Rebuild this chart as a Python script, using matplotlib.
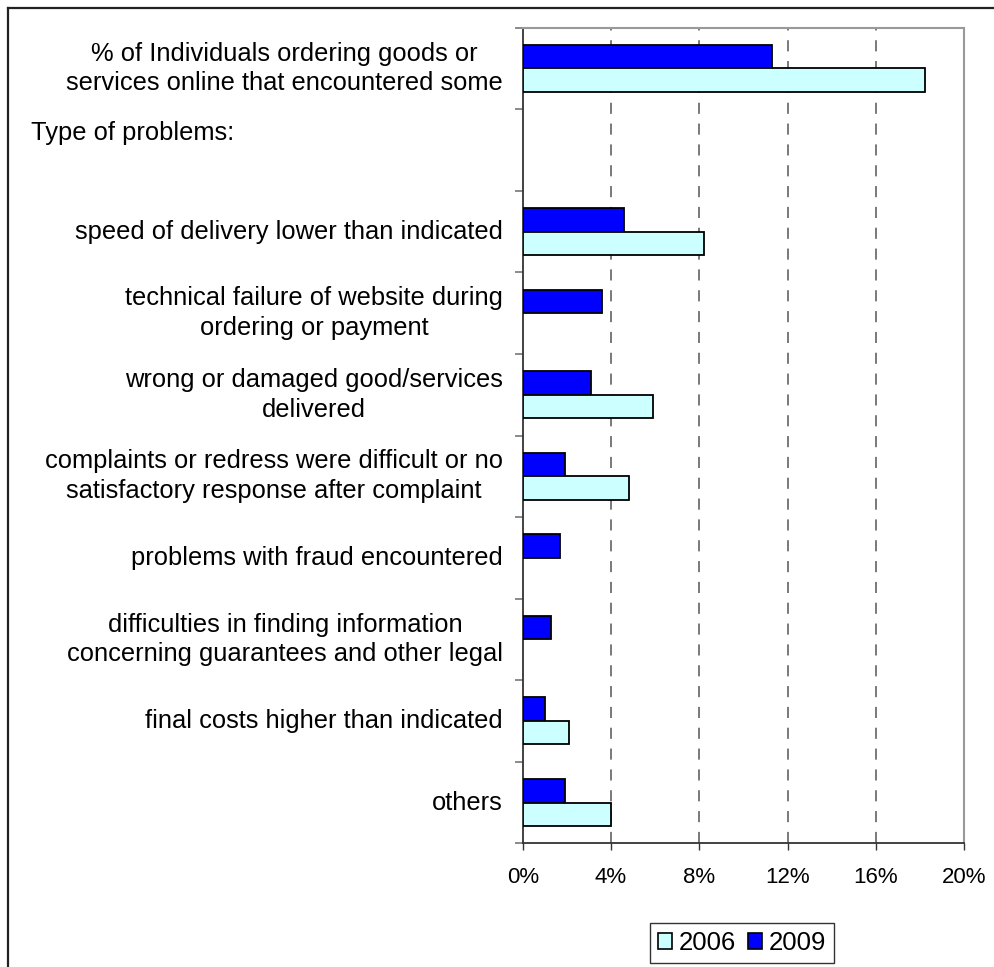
import matplotlib
matplotlib.use("Agg")
import matplotlib.pyplot as plt
from matplotlib.lines import Line2D
from matplotlib.patches import Patch
from matplotlib.transforms import ScaledTranslation

plt.rcParams['font.family'] = ['Liberation Sans', 'DejaVu Sans']
plt.rcParams['lines.scale_dashes'] = False

# Données (en %) ; None = pas de valeur
categories = [
    "% of Individuals ordering goods or\nservices online that encountered some",
    "Type of problems:",
    "speed of delivery lower than indicated",
    "technical failure of website during\nordering or payment",
    "wrong or damaged good/services\ndelivered",
    "complaints or redress were difficult or no\nsatisfactory response after complaint",
    "problems with fraud encountered",
    "difficulties in finding information\nconcerning guarantees and other legal",
    "final costs higher than indicated",
    "others",
]
values_2006 = [18.2, None, 8.2, None, 5.9, 4.8, None, None, 2.1, 4.0]
values_2009 = [11.3, None, 4.6, 3.6, 3.1, 1.9, 1.7, 1.3, 1.0, 1.9]
x_ticks = [0, 4, 8, 12, 16, 20]

W, H = 994, 967
fig = plt.figure(figsize=(W / 100, H / 100), dpi=100)
ax = fig.add_axes([522.7 / W, 1 - 843.3 / H, 441.6 / W, 815.6 / H])

# Barres (on saute les catégories sans valeur)
h = 0.288
y09 = [i - h / 2 for i, v in enumerate(values_2009) if v is not None]
v09 = [v for v in values_2009 if v is not None]
y06 = [i + h / 2 for i, v in enumerate(values_2006) if v is not None]
v06 = [v for v in values_2006 if v is not None]
ax.barh(y09, v09, height=h, color='#0000FF', edgecolor='black', linewidth=1.3, zorder=3)
ax.barh(y06, v06, height=h, color='#CCFFFF', edgecolor='black', linewidth=1.3, zorder=3)

ax.set_xlim(0, 20)
ax.set_ylim(len(categories) - 0.5, -0.5)

# Axe x
ax.set_xticks(x_ticks)
ax.set_xticklabels([f"{t}%" for t in x_ticks], fontsize=16)
ax.tick_params(axis='x', length=5, width=1, color='#333333', pad=12)
for t in x_ticks[1:-1]:
    ax.axvline(t, color='#555555', linewidth=1.1, linestyle=(0, (8, 7)), zorder=1)

# Axe y : graduations aux limites des catégories
ax.set_yticks([i - 0.5 for i in range(len(categories) + 1)])
ax.set_yticklabels([])
ax.tick_params(axis='y', length=6, width=1.2, color='#777777')

for side in ['top', 'right']:
    ax.spines[side].set_color('#999999')
    ax.spines[side].set_linewidth(1.5)
for side in ['left', 'bottom']:
    ax.spines[side].set_color('#333333')
    ax.spines[side].set_linewidth(1.3)

# Libellés des catégories
trans = ax.get_yaxis_transform()
for i, lab in enumerate(categories):
    if i == 1:
        ax.text(-1.114, i, lab, transform=trans + ScaledTranslation(0, 17 / 100, fig.dpi_scale_trans),
                ha='left', va='center', fontsize=18.4)
        continue
    ax.text(-0.045, i, lab, transform=trans, ha='right', va='center',
            multialignment='center', fontsize=18.4, linespacing=1.3)

# Légende
handles = [Patch(facecolor='#CCFFFF', edgecolor='black', linewidth=1.2, label='2006'),
           Patch(facecolor='#0000FF', edgecolor='black', linewidth=1.2, label='2009')]
leg = fig.legend(handles=handles, loc='center', bbox_to_anchor=(742 / W, 1 - 943 / H),
                 ncol=2, fontsize=18.5, frameon=True, fancybox=False,
                 handlelength=0.55, handleheight=0.55, handletextpad=0.25,
                 columnspacing=0.5, borderpad=0.3)
leg.get_frame().set_edgecolor('black')
leg.get_frame().set_linewidth(1.0)

# Cadre extérieur (bords gauche et haut)
fig.add_artist(Line2D([8 / W, 8 / W], [0, 1 - 8 / H], transform=fig.transFigure,
                      color='#222222', linewidth=1.6))
fig.add_artist(Line2D([8 / W, 1], [1 - 8 / H, 1 - 8 / H], transform=fig.transFigure,
                      color='#222222', linewidth=1.6))

fig.savefig("out.png", dpi=100)
